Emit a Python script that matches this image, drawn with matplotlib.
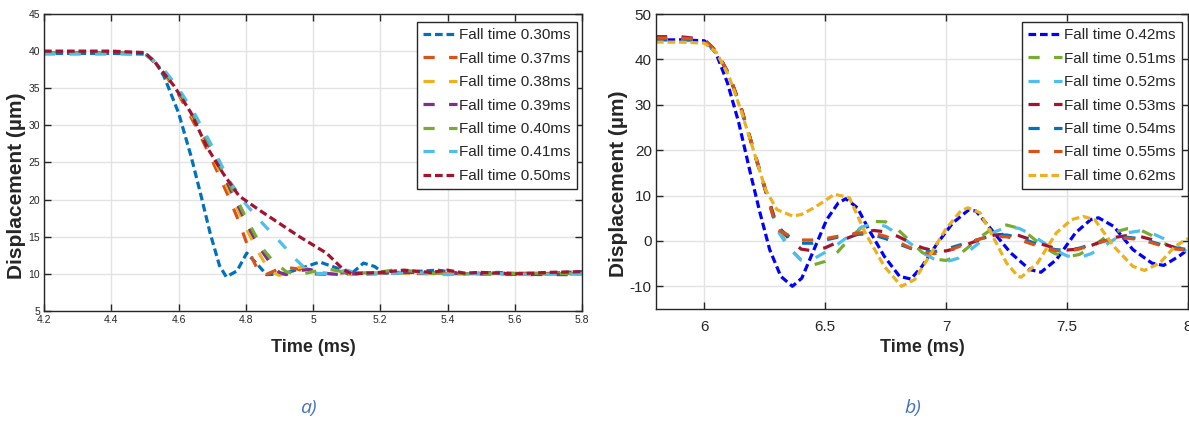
import numpy as np
import matplotlib
matplotlib.use("Agg")
import matplotlib.pyplot as plt

plt.rcParams['font.family'] = ['Liberation Sans Narrow', 'Liberation Sans', 'DejaVu Sans']
plt.rcParams['axes.unicode_minus'] = False

# ---------------- panel a) ----------------
a_labels = ['Fall time 0.30ms', 'Fall time 0.37ms', 'Fall time 0.38ms', 'Fall time 0.39ms',
            'Fall time 0.40ms', 'Fall time 0.41ms', 'Fall time 0.50ms']
a_colors = ['#0072BD', '#D95319', '#EDB120', '#7E2F8E', '#77AC30', '#4DBEEE', '#A2142F']

a_t030 = [4.2, 4.3, 4.4, 4.5, 4.53, 4.557, 4.6, 4.637, 4.665, 4.694, 4.722, 4.742, 4.774, 4.803,
          4.83, 4.862, 4.91, 4.955, 5.0, 5.02, 5.07, 5.11, 5.15, 5.183, 5.21, 5.3, 5.37, 5.45,
          5.55, 5.65, 5.75, 5.8]
a_v030 = [39.7, 39.7, 39.7, 39.6, 38.6, 36.6, 31.7, 25.9, 20.9, 15.5, 11.1, 9.6, 10.4, 12.8,
          11.5, 9.9, 10.0, 10.6, 11.3, 11.6, 10.8, 9.85, 11.45, 11.0, 10.1, 10.3, 10.5, 10.0,
          10.2, 9.9, 10.2, 10.3]

a_t037 = [4.2, 4.5, 4.55, 4.6, 4.65, 4.7, 4.75, 4.78, 4.8, 4.82, 4.842, 4.86, 4.89, 4.91, 4.95,
          5.0, 5.05, 5.1, 5.2, 5.4, 5.6, 5.8]
a_v037 = [39.8, 39.7, 37.5, 34.2, 30.0, 25.3, 20.3, 17.0, 14.5, 12.0, 10.0, 9.9, 10.5, 10.9,
          10.7, 10.0, 9.9, 10.2, 10.1, 10.0, 10.1, 10.0]

a_t038 = [4.2, 4.5, 4.55, 4.6, 4.65, 4.7, 4.75, 4.8, 4.83, 4.86, 4.88, 4.9, 4.93, 4.96, 5.0,
          5.05, 5.1, 5.2, 5.4, 5.6, 5.8]
a_v038 = [39.8, 39.7, 37.6, 34.4, 30.5, 26.0, 21.2, 16.3, 13.5, 11.2, 10.2, 9.8, 10.3, 10.9,
          10.5, 10.0, 9.9, 10.1, 10.0, 9.9, 10.0]

a_t039 = [4.2, 4.5, 4.55, 4.6, 4.65, 4.7, 4.75, 4.8, 4.84, 4.88, 4.9, 4.92, 4.95, 4.99, 5.03,
          5.08, 5.15, 5.3, 5.5, 5.7, 5.8]
a_v039 = [39.8, 39.7, 37.7, 34.6, 30.8, 26.5, 21.8, 17.0, 13.6, 11.0, 10.2, 9.9, 10.4, 10.6,
          10.1, 9.9, 10.1, 10.2, 10.0, 9.9, 9.9]

a_t040 = [4.2, 4.5, 4.55, 4.6, 4.65, 4.7, 4.75, 4.8, 4.85, 4.88, 4.92, 4.96, 5.0, 5.05, 5.1,
          5.18, 5.25, 5.35, 5.5, 5.65, 5.8]
a_v040 = [39.8, 39.7, 37.8, 34.8, 31.0, 26.8, 22.3, 17.6, 13.4, 11.8, 10.3, 9.9, 10.3, 10.6,
          10.2, 10.1, 10.6, 10.1, 10.0, 10.1, 10.0]

a_t041 = [4.2, 4.5, 4.55, 4.6, 4.65, 4.7, 4.75, 4.8, 4.85, 4.9, 4.95, 4.98, 5.0, 5.05, 5.1,
          5.15, 5.2, 5.3, 5.4, 5.5, 5.65, 5.8]
a_v041 = [39.6, 39.6, 37.9, 35.0, 31.4, 27.2, 22.6, 19.4, 16.8, 14.4, 11.9, 10.6, 10.1, 10.0,
          10.5, 9.9, 10.0, 10.2, 9.9, 10.1, 9.9, 10.0]

a_t050 = [4.2, 4.3, 4.4, 4.5, 4.53, 4.587, 4.637, 4.683, 4.733, 4.78, 4.84, 4.9, 4.96, 5.0,
          5.04, 5.09, 5.115, 5.2, 5.27, 5.35, 5.4, 5.45, 5.5, 5.6, 5.7, 5.8]
a_v050 = [40.0, 40.0, 40.0, 39.8, 38.5, 35.3, 31.7, 27.2, 23.5, 20.5, 18.6, 16.8, 15.0, 13.9,
          12.8, 10.6, 10.0, 10.2, 10.5, 10.2, 10.5, 10.1, 10.2, 10.0, 10.2, 10.3]

a_series = [(a_t030, a_v030), (a_t037, a_v037), (a_t038, a_v038), (a_t039, a_v039),
            (a_t040, a_v040), (a_t041, a_v041), (a_t050, a_v050)]
a_short = [True, False, False, False, False, False, True]

# ---------------- panel b) ----------------
b_labels = ['Fall time 0.42ms', 'Fall time 0.51ms', 'Fall time 0.52ms', 'Fall time 0.53ms',
            'Fall time 0.54ms', 'Fall time 0.55ms', 'Fall time 0.62ms']
b_colors = ['#0000FF', '#77AC30', '#4DBEEE', '#A2142F', '#0072BD', '#D95319', '#EDB120']

b_t042 = [5.8, 5.9, 6.0, 6.047, 6.095, 6.142, 6.19, 6.23, 6.27, 6.316, 6.364, 6.403, 6.459,
          6.506, 6.554, 6.585, 6.633, 6.68, 6.744, 6.807, 6.854, 6.9, 6.965, 7.028, 7.092,
          7.123, 7.187, 7.266, 7.345, 7.392, 7.456, 7.535, 7.598, 7.63, 7.693, 7.772, 7.851,
          7.899, 7.962, 8.0]
b_v042 = [44.3, 44.3, 44.1, 41.5, 34.9, 26.1, 15.0, 6.2, -1.9, -7.8, -10.0, -8.2, -1.2,
          4.7, 8.4, 9.3, 7.3, 2.5, -3.4, -7.8, -8.4, -5.6, -0.4, 4.0, 6.8,
          6.6, 2.5, -2.6, -6.3, -6.9, -4.1, 1.8, 4.7, 5.1, 3.2, -1.9, -4.9,
          -5.4, -3.4, -1.9]

b_t = [5.8, 5.9, 6.0, 6.05, 6.1, 6.15, 6.2, 6.25, 6.3, 6.35, 6.4, 6.45, 6.5, 6.55, 6.6, 6.65,
       6.7, 6.75, 6.8, 6.85, 6.9, 6.95, 7.0, 7.05, 7.1, 7.15, 7.2, 7.25, 7.3, 7.35, 7.4, 7.45,
       7.5, 7.55, 7.6, 7.65, 7.7, 7.75, 7.8, 7.85, 7.9, 7.95, 8.0]
b_v051 = [44.4, 44.4, 44.2, 41.7, 36.8, 29.5, 20.5, 11.5, 3.2, -1.5, -4.2, -5.3, -4.5, -2.5,
          0.5, 3.0, 4.3, 4.2, 2.5, 0.0, -2.5, -4.0, -4.3, -3.2, -1.0, 1.2, 3.0, 3.5, 2.8, 1.0,
          -1.2, -2.8, -3.5, -3.0, -1.5, 0.5, 2.0, 2.7, 2.5, 1.2, -0.5, -1.8, -2.3]
b_v052 = [44.2, 44.2, 44.0, 41.6, 36.8, 29.6, 20.8, 11.8, 2.5, -1.5, -4.2, -4.0, -2.5, -0.8,
          1.2, 3.0, 3.9, 3.2, 1.5, -0.5, -2.5, -4.0, -4.6, -3.8, -2.0, 0.2, 2.0, 3.0, 2.8, 1.5,
          -0.3, -2.0, -3.3, -3.7, -2.8, -1.2, 0.5, 1.8, 2.2, 1.7, 0.5, -1.0, -2.5]
b_v053 = [45.0, 45.0, 44.4, 41.8, 36.9, 29.6, 20.7, 11.7, 3.5, 0.5, -1.8, -2.2, -1.5, -0.3,
          0.8, 1.8, 2.3, 2.0, 1.0, -0.3, -1.5, -2.2, -2.2, -1.5, -0.5, 0.5, 1.3, 1.5, 1.2, 0.3,
          -0.8, -1.6, -2.0, -1.8, -1.0, 0.0, 0.8, 1.2, 1.0, 0.3, -0.7, -1.5, -1.8]
b_v054 = [44.4, 44.4, 44.2, 41.7, 36.8, 29.6, 20.7, 11.6, 3.0, 1.0, -0.5, -0.5, 0.2, 0.8,
          1.3, 1.5, 1.3, 0.5, -0.6, -1.6, -2.3, -2.4, -1.8, -1.0, -0.2, 0.6, 1.2, 1.3, 0.8, -0.2,
          -1.2, -1.9, -2.1, -1.6, -0.8, 0.0, 0.6, 0.8, 0.5, -0.2, -1.0, -1.6, -1.9]
b_v055 = [44.7, 44.7, 44.3, 41.8, 36.9, 29.7, 20.8, 11.8, 2.5, 1.2, 0.2, 0.2, 0.5, 1.0,
          1.5, 1.8, 1.7, 1.0, -0.2, -1.5, -2.5, -2.8, -2.3, -1.3, -0.2, 0.6, 1.0, 0.9, 0.3, -0.6,
          -1.5, -2.1, -2.3, -1.8, -0.9, -0.1, 0.5, 0.6, 0.3, -0.4, -1.2, -1.8, -2.0]

b_t062 = [5.8, 5.9, 6.0, 6.05, 6.1, 6.15, 6.2, 6.253, 6.3, 6.364, 6.4, 6.45, 6.5, 6.538, 6.6,
          6.665, 6.744, 6.815, 6.87, 6.93, 6.997, 7.06, 7.09, 7.14, 7.2, 7.25, 7.297, 7.31,
          7.377, 7.456, 7.519, 7.566, 7.614, 7.693, 7.772, 7.82, 7.883, 7.946, 8.0]
b_v062 = [43.8, 43.8, 43.6, 41.5, 36.5, 29.0, 20.5, 11.3, 6.9, 5.5, 5.8, 7.2, 8.9, 10.3, 9.5,
          1.8, -5.6, -10.0, -8.5, -3.4, 2.5, 6.6, 7.3, 6.2, 0.3, -4.9, -7.8, -8.0,
          -4.9, 1.8, 4.7, 5.4, 4.7, -1.2, -5.6, -6.5, -4.9, -1.2, 0.5]

b_series = [(b_t042, b_v042), (b_t, b_v051), (b_t, b_v052), (b_t, b_v053),
            (b_t, b_v054), (b_t, b_v055), (b_t062, b_v062)]
b_short = [True, False, False, False, False, False, True]

W, H = 1189, 421
fig = plt.figure(figsize=(W / 100, H / 100), dpi=100)


def px_axes(x0, y0, x1, y1):
    return fig.add_axes([x0 / W, 1 - y1 / H, (x1 - x0) / W, (y1 - y0) / H])


def style(ax, tick_size):
    ax.grid(True, color='#e3e3e3', linewidth=1)
    ax.set_axisbelow(True)
    ax.tick_params(direction='in', top=True, right=True, length=5, width=1,
                   labelsize=tick_size, colors='#262626', pad=3)
    for s in ax.spines.values():
        s.set_color('#262626')
        s.set_linewidth(1)


def draw(ax, series, colors, labels, short):
    for (t, v), c, lab, sh in zip(series, colors, labels, short):
        ax.plot(t, v, color=c, linewidth=2.3, label=lab,
                dashes=(2.4, 1.2) if sh else (3.5, 4.5))


ax1 = px_axes(44, 14, 582, 311)
draw(ax1, a_series, a_colors, a_labels, a_short)
ax1.set_xlim(4.2, 5.8)
ax1.set_ylim(5, 45)
ax1.set_xticks(np.arange(4.2, 5.81, 0.2))
ax1.set_xticklabels(['4.2', '4.4', '4.6', '4.8', '5', '5.2', '5.4', '5.6', '5.8'])
ax1.set_yticks(np.arange(5, 46, 5))
style(ax1, 7.5)

ax2 = px_axes(656, 14, 1188, 309)
draw(ax2, b_series, b_colors, b_labels, b_short)
ax2.set_xlim(5.8, 8)
ax2.set_ylim(-15, 50)
ax2.set_xticks([6, 6.5, 7, 7.5, 8])
ax2.set_xticklabels(['6', '6.5', '7', '7.5', '8'])
ax2.set_yticks(np.arange(-10, 51, 10))
style(ax2, 11)
ax2.tick_params(axis='x', pad=8)

for ax, right in [(ax1, 577), (ax2, 1182)]:
    leg = ax.legend(loc='upper right', bbox_to_anchor=(right / W, 1 - 22 / H),
                    bbox_transform=fig.transFigure, borderaxespad=0, fancybox=False,
                    handlelength=2.2, handletextpad=0.15, labelspacing=0.62,
                    borderpad=0.4, framealpha=1, prop={'family': 'Liberation Sans', 'size': 11})
    leg.get_frame().set_edgecolor('#262626')
    leg.get_frame().set_linewidth(1)
    for txt in leg.get_texts():
        txt.set_color('#262626')

ylab = dict(rotation=90, ha='center', va='center', fontsize=15, fontweight='bold',
            family='Liberation Sans', color='#262626')
fig.text(17 / W, 1 - 186 / H, 'Displacement (µm)', **ylab)
fig.text(619 / W, 1 - 184 / H, 'Displacement (µm)', **ylab)

xlab = dict(ha='center', va='center', fontsize=13, fontweight='bold', color='#262626')
fig.text(313 / W, 1 - 347 / H, 'Time (ms)', **xlab)
fig.text(922 / W, 1 - 347 / H, 'Time (ms)', **xlab)

cap = dict(ha='center', va='center', fontsize=14, style='italic', color='#4472C4',
           family='Open Sans')
fig.text(308 / W, 1 - 408 / H, 'a)', **cap)
fig.text(913 / W, 1 - 408 / H, 'b)', **cap)

fig.savefig('out.png', dpi=100)
